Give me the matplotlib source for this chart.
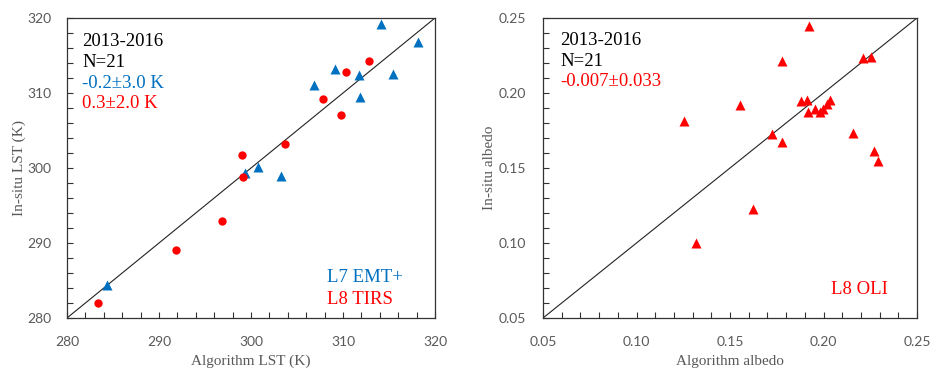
import matplotlib
matplotlib.use("Agg")
import matplotlib.pyplot as plt
from matplotlib.ticker import MultipleLocator, FormatStrFormatter

plt.rcParams['font.family'] = ['Liberation Serif', 'DejaVu Serif']

# ---- data ----
l7_x = [284.3, 299.3, 300.8, 303.3, 306.8, 309.1, 311.7, 311.9, 314.1, 315.4, 318.1]
l7_y = [284.4, 299.4, 300.2, 299.0, 311.1, 313.2, 312.4, 309.5, 319.2, 312.5, 316.8]
l8_x = [283.4, 291.9, 296.8, 299.0, 299.1, 303.7, 307.8, 309.8, 310.3, 312.8]
l8_y = [282.0, 289.1, 293.0, 301.8, 298.8, 303.2, 309.2, 307.1, 312.8, 314.3]

oli_x = [0.1256, 0.1317, 0.1555, 0.1625, 0.1725, 0.1776, 0.1776, 0.1881, 0.1913, 0.1924,
         0.1915, 0.1955, 0.1981, 0.1999, 0.2017, 0.2036, 0.2159, 0.2210, 0.2252, 0.2270, 0.2290]
oli_y = [0.1813, 0.1002, 0.1920, 0.1227, 0.1727, 0.2213, 0.1675, 0.1945, 0.1953, 0.2447,
         0.1873, 0.1891, 0.1873, 0.1891, 0.1925, 0.1953, 0.1735, 0.2231, 0.2242, 0.1615, 0.1547]

lst_lim = [280, 320]
alb_lim = [0.05, 0.25]

BLUE = '#0070C0'
RED = '#FF0000'
GRAY = '#595959'

fig = plt.figure(figsize=(9.31, 3.72), dpi=100)
ax1 = fig.add_axes([67/931, 1-318/372, 368/931, 300/372])
ax2 = fig.add_axes([543/931, 1-318/372, 374/931, 300/372])

def style(ax, lim, major, minor, fmt, ypad):
    ax.set_xlim(lim)
    ax.set_ylim(lim)
    ax.plot(lim, lim, color='#222222', lw=0.8, zorder=1)
    ax.xaxis.set_major_locator(MultipleLocator(major))
    ax.yaxis.set_major_locator(MultipleLocator(major))
    ax.xaxis.set_minor_locator(MultipleLocator(minor))
    ax.yaxis.set_minor_locator(MultipleLocator(minor))
    ax.xaxis.set_major_formatter(FormatStrFormatter(fmt))
    ax.yaxis.set_major_formatter(FormatStrFormatter(fmt))
    ax.tick_params(which='both', direction='in', length=4, width=0.8,
                   top=False, right=False, labelsize=10, labelcolor=GRAY, color='#333333')
    ax.tick_params(axis='x', pad=13)
    ax.tick_params(axis='y', pad=ypad)
    for lab in ax.get_xticklabels() + ax.get_yticklabels():
        lab.set_fontfamily(['Lato', 'DejaVu Sans'])
    for s in ax.spines.values():
        s.set_color('#333333')
        s.set_linewidth(0.9)

style(ax1, lst_lim, 10, 2, '%d', 11)
style(ax2, alb_lim, 0.05, 0.01, '%.2f', 12)

ax1.plot(l7_x, l7_y, '^', color=BLUE, ms=6.5, mec='none', zorder=3)
ax1.plot(l8_x, l8_y, 'o', color=RED, ms=6, mec='none', zorder=3)
ax2.plot(oli_x, oli_y, '^', color=RED, ms=7, mec='none', zorder=3)

ax1.set_xlabel('Algorithm LST (K)', fontsize=11, color=GRAY, labelpad=5)
ax1.set_ylabel('In-situ LST (K)', fontsize=11, color=GRAY, labelpad=1)
ax2.set_xlabel('Algorithm albedo', fontsize=11, color=GRAY, labelpad=5)
ax2.set_ylabel('In-situ albedo', fontsize=11, color=GRAY, labelpad=2)

fs = 13.5
def ftext(x, y, s, color):
    fig.text(x/931, 1-y/372, s, fontsize=fs, color=color, ha='left', va='center')

ftext(82, 41.5, '2013-2016', 'black')
ftext(82, 62.5, 'N=21', 'black')
ftext(82, 83, '-0.2±3.0 K', BLUE)
ftext(82, 104, '0.3±2.0 K', RED)
ftext(327, 277, 'L7 EMT+', BLUE)
ftext(327, 300, 'L8 TIRS', RED)

ftext(560, 40.5, '2013-2016', 'black')
ftext(560, 61.5, 'N=21', 'black')
ftext(560, 81.5, '-0.007±0.033', RED)
ftext(831, 290, 'L8 OLI', RED)

fig.savefig('out.png', dpi=100)
